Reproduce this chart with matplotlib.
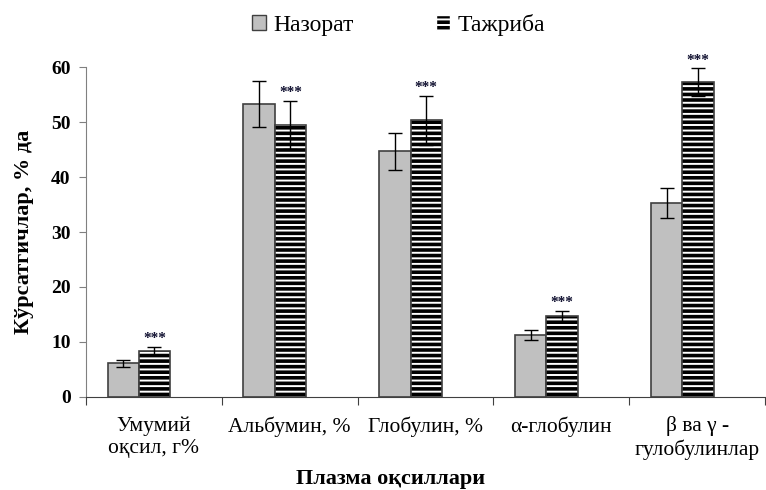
import numpy as np
import matplotlib as mpl
mpl.use('Agg')
import matplotlib.pyplot as plt
from matplotlib.patches import Patch

categories = ['Умумий\nоқсил, г%', 'Альбумин, %', 'Глобулин, %', 'α-глобулин', 'β ва γ -\nгулобулинлар']
control = [6.1, 53.3, 44.7, 11.3, 35.3]
control_err = [0.6, 4.2, 3.4, 0.9, 2.7]
test = [8.4, 49.5, 50.3, 14.7, 57.3]
test_err = [0.7, 4.4, 4.5, 1.0, 2.5]
stars = ['***', '***', '***', '***', '***']

plt.rcParams['font.family'] = ['Liberation Serif', 'DejaVu Serif']
plt.rcParams['hatch.linewidth'] = 1.4

fig = plt.figure(figsize=(7.66, 4.9), dpi=100)
ax = fig.add_axes([0.112, 0.19, 0.887, 0.673])

x = np.arange(len(categories))
w = 0.23
shift = -0.11
ax.bar(x + shift - w/2, control, w, color='#c0c0c0', edgecolor='#404040', lw=1.2, zorder=2)
plt.rcParams['hatch.color'] = 'white'
ax.bar(x + shift + w/2, test, w, color='black', edgecolor='white', hatch='---', lw=0, zorder=2)
ax.bar(x + shift + w/2, test, w, fill=False, edgecolor='#404040', lw=1.2, zorder=3)
ax.errorbar(x + shift - w/2, control, yerr=control_err, fmt='none', ecolor='black', elinewidth=1, capsize=5, zorder=4)
ax.errorbar(x + shift + w/2, test, yerr=test_err, fmt='none', ecolor='black', elinewidth=1, capsize=5, zorder=4)

for i in range(len(categories)):
    ax.text(x[i] + shift + w/2, test[i] + test_err[i] + 0.3, stars[i], ha='center', va='bottom',
            fontsize=11, fontweight='bold', color='#101030')

ax.set_xlim(-0.5, len(categories) - 0.5)
ax.set_ylim(0, 60)
ax.set_yticks(range(0, 61, 10))
ax.set_xticks(np.arange(-0.5, len(categories), 1.0))
ax.set_xticklabels([])
ax.set_xticks(x, minor=True)
ax.set_xticklabels(categories, minor=True, fontsize=15.5, linespacing=1.2)
ax.tick_params(axis='x', which='minor', length=0, pad=14)
ax.tick_params(axis='x', which='major', length=6, color='#404040')
ax.tick_params(axis='y', length=5, color='#808080', labelsize=14, pad=6)
for lab in ax.get_yticklabels():
    lab.set_fontweight('bold')
ax.spines['top'].set_visible(False)
ax.spines['right'].set_visible(False)
ax.spines['left'].set_color('#808080')
ax.spines['bottom'].set_color('#404040')

ax.set_ylabel('Кўрсатгичлар, % да', fontsize=16, fontweight='bold', labelpad=12)
fig.text(0.51, 0.003, 'Плазма оқсиллари', ha='center', va='bottom', fontsize=16, fontweight='bold')

handles = [Patch(facecolor='#c0c0c0', edgecolor='#404040', label='Назорат'),
           Patch(facecolor='black', edgecolor='white', hatch='---', label='Тажриба')]
fig.legend(handles=handles, loc='center', bbox_to_anchor=(0.52, 0.95), ncol=2, frameon=False,
           fontsize=17, handlelength=0.6, handleheight=0.6, handletextpad=0.3, columnspacing=3.5)

plt.savefig('out.png', dpi=100)
